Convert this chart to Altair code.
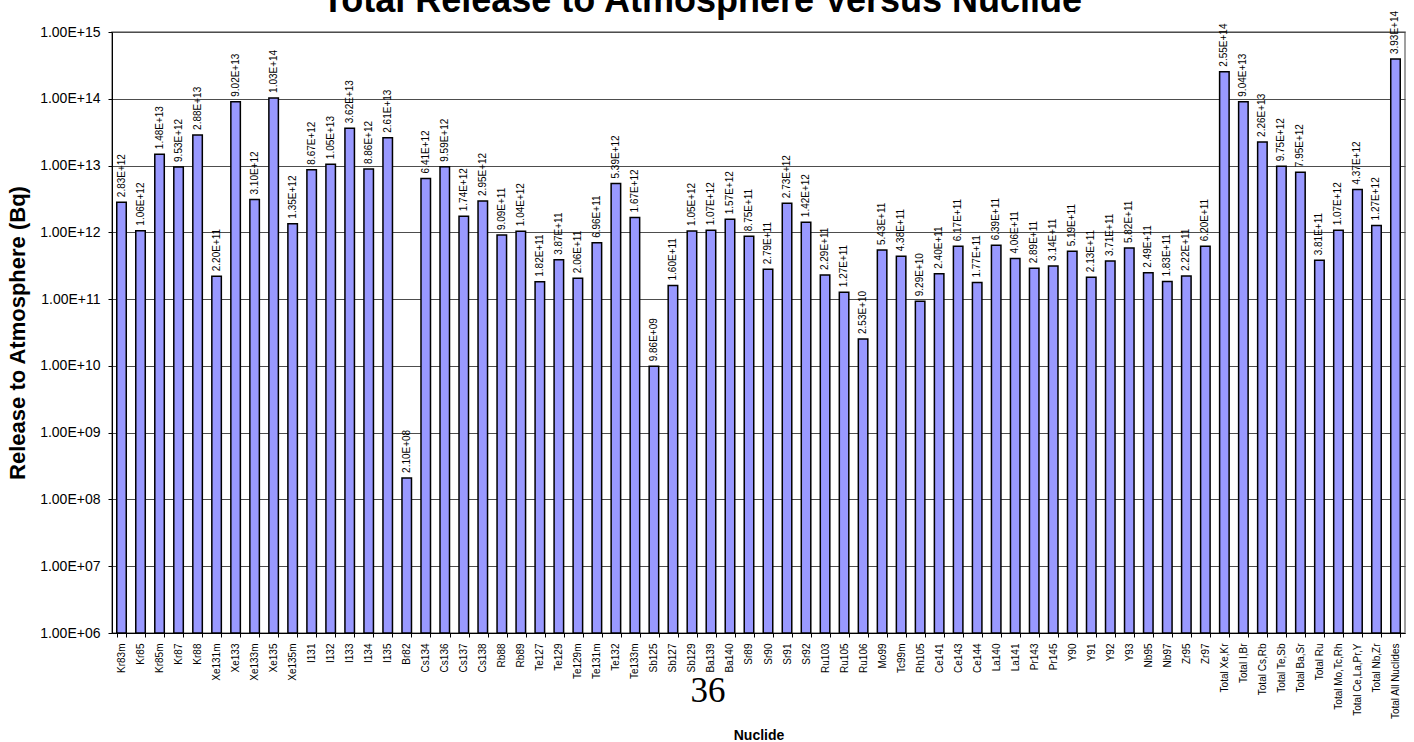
import altair as alt
import pandas as pd

nuclides = [
    "Kr83m", "Kr85", "Kr85m", "Kr87", "Kr88", "Xe131m", "Xe133", "Xe133m", "Xe135", "Xe135m",
    "I131", "I132", "I133", "I134", "I135", "Br82", "Cs134", "Cs136", "Cs137", "Cs138",
    "Rb88", "Rb89", "Te127", "Te129", "Te129m", "Te131m", "Te132", "Te133m", "Sb125", "Sb127",
    "Sb129", "Ba139", "Ba140", "Sr89", "Sr90", "Sr91", "Sr92", "Ru103", "Ru105", "Ru106",
    "Mo99", "Tc99m", "Rh105", "Ce141", "Ce143", "Ce144", "La140", "La141", "Pr143", "Pr145",
    "Y90", "Y91", "Y92", "Y93", "Nb95", "Nb97", "Zr95", "Zr97",
    "Total Xe,Kr", "Total I,Br", "Total Cs,Rb", "Total Te,Sb", "Total Ba,Sr", "Total Ru",
    "Total Mo,Tc,Rh", "Total Ce,La,Pr,Y", "Total Nb,Zr", "Total All Nuclides",
]
release_bq = [
    2.83e12, 1.06e12, 1.48e13, 9.53e12, 2.88e13, 2.20e11, 9.02e13, 3.10e12, 1.03e14, 1.35e12,
    8.67e12, 1.05e13, 3.62e13, 8.86e12, 2.61e13, 2.10e8, 6.41e12, 9.59e12, 1.74e12, 2.95e12,
    9.09e11, 1.04e12, 1.82e11, 3.87e11, 2.06e11, 6.96e11, 5.39e12, 1.67e12, 9.86e9, 1.60e11,
    1.05e12, 1.07e12, 1.57e12, 8.75e11, 2.79e11, 2.73e12, 1.42e12, 2.29e11, 1.27e11, 2.53e10,
    5.43e11, 4.38e11, 9.29e10, 2.40e11, 6.17e11, 1.77e11, 6.39e11, 4.06e11, 2.89e11, 3.14e11,
    5.19e11, 2.13e11, 3.71e11, 5.82e11, 2.49e11, 1.83e11, 2.22e11, 6.20e11,
    2.55e14, 9.04e13, 2.26e13, 9.75e12, 7.95e12, 3.81e11,
    1.07e12, 4.37e12, 1.27e12, 3.93e14,
]
y_ticks = [1e6, 1e7, 1e8, 1e9, 1e10, 1e11, 1e12, 1e13, 1e14, 1e15]
chart_title = "Total Release to Atmosphere Versus Nuclide"
page_number = "36"

df = pd.DataFrame({
    "Nuclide": nuclides,
    "Release": release_bq,
    "Base": [y_ticks[0]] * len(nuclides),
    "Label": [f"{v:.2E}" for v in release_bq],
})

W, H = 1293, 601

x_enc = alt.X(
    "Nuclide:N", sort=nuclides, title="Nuclide",
    scale=alt.Scale(paddingInner=0.5, paddingOuter=0.25),
    axis=alt.Axis(
        labelAngle=-90, labelFontSize=10, labelFont="Arial", labelColor="#000",
        tickBand="extent", tickSize=4, tickColor="#000", domainColor="#000",
        labelPadding=6, titleFontSize=14, titleFont="Arial", titleFontWeight="bold",
        titleColor="#000", titleBaseline="alphabetic", titleY=106,
    ),
)
y_scale = alt.Scale(type="log", domain=[1e6, 1e15], nice=False)

bars = alt.Chart(df).mark_bar(
    fill="#9999FF", stroke="#000", strokeWidth=1.5
).encode(
    x=x_enc,
    y=alt.Y(
        "Release:Q", scale=y_scale, title="Release to Atmosphere (Bq)",
        axis=alt.Axis(
            values=y_ticks,
            labelExpr="'1.00E+' + (round(log(datum.value)/LN10) < 10 ? '0' : '') + round(log(datum.value)/LN10)",
            labelFontSize=14, labelFont="Arial", labelColor="#000",
            tickSize=4, tickColor="#000", domainColor="#000", labelPadding=8,
            grid=True, gridColor="#4d4d4d", gridWidth=1,
            titleFontSize=22, titleFont="Arial", titleFontWeight="bold",
            titleColor="#000", titlePadding=10,
        ),
    ),
    y2="Base:Q",
)

labels = alt.Chart(df).mark_text(
    angle=270, align="left", baseline="middle", dx=5,
    fontSize=10, font="Arial", color="#000",
).encode(
    x=alt.X("Nuclide:N", sort=nuclides),
    y=alt.Y("Release:Q", scale=y_scale),
    text="Label:N",
)

title_layer = alt.Chart(pd.DataFrame({"t": [chart_title]})).mark_text(
    align="center", baseline="alphabetic", fontSize=36, font="Arial",
    fontWeight="bold", color="#000",
).encode(text="t:N", x=alt.value(702 - 112), y=alt.value(12 - 32))

page_layer = alt.Chart(pd.DataFrame({"p": [page_number]})).mark_text(
    align="center", baseline="alphabetic", fontSize=35,
    font="Liberation Serif", color="#000",
).encode(text="p:N", x=alt.value(708 - 112), y=alt.value(702 - 32))

chart = alt.layer(bars, labels, title_layer, page_layer).properties(
    width=W, height=H,
    autosize=alt.AutoSizeParams(type="none"),
    padding={"left": 112, "top": 32, "right": 9, "bottom": 109},
    background="#ffffff",
).configure_view(stroke="#808080", strokeWidth=1.5)

chart.save("out.html", embed_options={"renderer": "svg", "actions": False})
